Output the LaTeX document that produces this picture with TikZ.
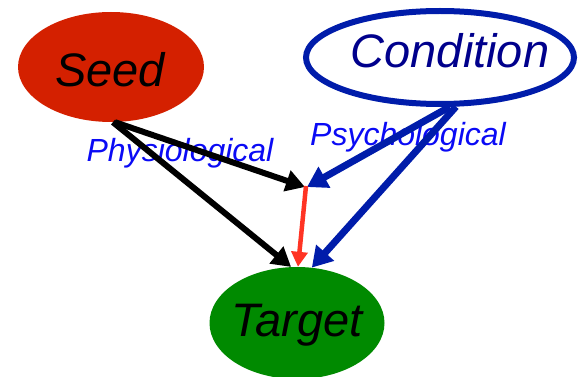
\documentclass[tikz,border=0pt]{standalone}
\usepackage{fontspec}
\setmainfont{Liberation Sans}
\usetikzlibrary{shapes.geometric,arrows.meta}
\definecolor{seedred}{RGB}{212,32,0}
\definecolor{tgtgreen}{RGB}{0,138,0}
\definecolor{condblue}{RGB}{0,28,170}
\definecolor{condtext}{RGB}{0,0,140}
\definecolor{lblblue}{RGB}{10,10,245}
\definecolor{redarrow}{RGB}{255,52,36}
\tikzset{
  blob/.style={ellipse, inner sep=0pt},
  bigtext/.style={font=\fontsize{47}{47}\selectfont\itshape},
  lbl/.style={font=\fontsize{32}{32}\selectfont\itshape, text=lblblue, inner sep=0pt},
  blackarr/.style={draw=black, line width=6pt, -{Triangle[length=19pt,width=21pt]}},
  bluearr/.style={draw=condblue, line width=7pt, -{Triangle[length=20pt,width=23pt]}},
  redarr/.style={draw=redarrow, line width=4.5pt, -{Triangle[length=15pt,width=16pt]}}
}
\begin{document}
\begin{tikzpicture}[x=1pt,y=-1pt]
\useasboundingbox (0,0) rectangle (581,377);
\node[blob, fill=seedred, minimum width=186pt, minimum height=110pt,
      label={[bigtext, xshift=-1pt, yshift=-3pt]center:Seed}] (seed) at (111,67) {};
\node[blob, draw=condblue, line width=6pt, fill=white, minimum width=268pt, minimum height=93pt,
      label={[bigtext, text=condtext, xshift=10pt, yshift=7pt]center:Condition}] (cond) at (440,57.5) {};
\node[blob, fill=tgtgreen, minimum width=175pt, minimum height=112pt,
      label={[bigtext, xshift=0pt, yshift=-2pt]center:Target}] (tgt) at (297,323) {};
\coordinate (j) at (306,187);
\node[lbl] (phys) at (180,153) {Physiological};
\node[lbl] (psych) at (408,137) {Psychological};
\draw[blackarr] (seed.-86) -- ([xshift=-1pt]j);
\draw[blackarr] (seed.-88) -- (tgt.96);
\draw[bluearr] (cond.-79) -- ([xshift=1pt]j);
\draw[bluearr] (cond.-72) -- (tgt.75);
\draw[redarr] ([yshift=1pt]j) -- (tgt.89);
\end{tikzpicture}
\end{document}
